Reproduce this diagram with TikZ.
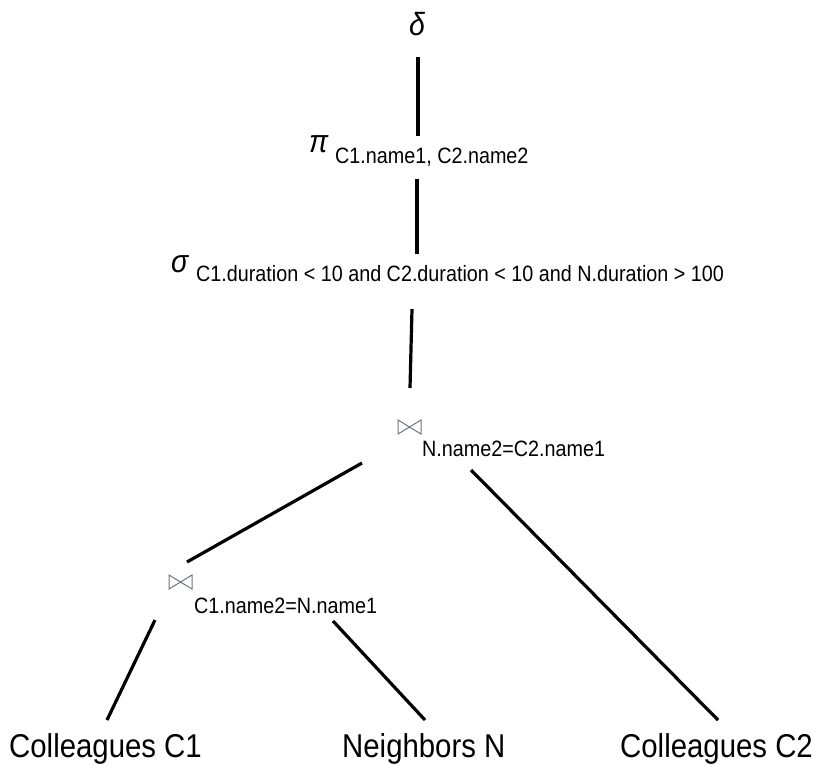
\documentclass[tikz,border=0pt]{standalone}
\usepackage{fontspec}
\setmainfont{Liberation Sans}[FakeStretch=0.89]
\definecolor{tiegray}{RGB}{105,118,135}
\begin{document}
\begin{tikzpicture}[x=1pt,y=-1pt,
  leaf/.style={inner sep=0pt,anchor=base west,font=\fontsize{33}{36}\selectfont},
  greek/.style={inner sep=0pt,anchor=base west,font=\fontsize{32}{34}\selectfont\itshape},
  sub/.style={inner sep=0pt,anchor=base west,font=\fontsize{22.2}{24}\selectfont},
  edge/.style={line width=3.2pt},
  bowtie/.style={draw=tiegray,line width=1pt,line join=miter}]
\useasboundingbox (0,0) rectangle (819,764);
% texts
\node[greek] (delta) at (409,35) {δ};
\node[greek] (pi) at (309,152) {π};
\node[sub] (pisub) at (335,163) {C1.name1, C2.name2};
\node[greek] (sigma) at (171,272) {σ};
\node[sub] (sigsub) at (196,281) {C1.duration < 10 and C2.duration < 10 and N.duration > 100};
\node[sub] (j1sub) at (422,456) {N.name2=C2.name1};
\node[sub] (j2sub) at (194,613) {C1.name2=N.name1};
\node[leaf] (c1) at (9,757) {Colleagues C1};
\node[leaf] (nb) at (342,757) {Neighbors N};
\node[leaf] (c2) at (620,757) {Colleagues C2};
% join symbols
\draw[bowtie] (398,420) -- (398,434) -- (421,420) -- (421,434) -- cycle;
\draw[bowtie] (169,575) -- (169,589) -- (192,575) -- (192,589) -- cycle;
\coordinate (j1) at (409,427);
\coordinate (j2) at (180,582);
% connector end points
\coordinate (a1) at (418,57);  \coordinate (a2) at (418,136);
\coordinate (b1) at (417,179); \coordinate (b2) at (417,254);
\coordinate (c1t) at (412,309); \coordinate (c2t) at (410,388);
\coordinate (d1) at (362,463); \coordinate (d2) at (187,562);
\coordinate (e1) at (155,620); \coordinate (e2) at (107,720);
\coordinate (f1) at (333,621); \coordinate (f2) at (425,720);
\coordinate (g1) at (471,470); \coordinate (g2) at (718,720);
\draw[edge] (a1) -- (a2);
\draw[edge] (b1) -- (b2);
\draw[edge] (c1t) -- (c2t);
\draw[edge] (d1) -- (d2);
\draw[edge] (e1) -- (e2);
\draw[edge] (f1) -- (f2);
\draw[edge] (g1) -- (g2);
\end{tikzpicture}
\end{document}
